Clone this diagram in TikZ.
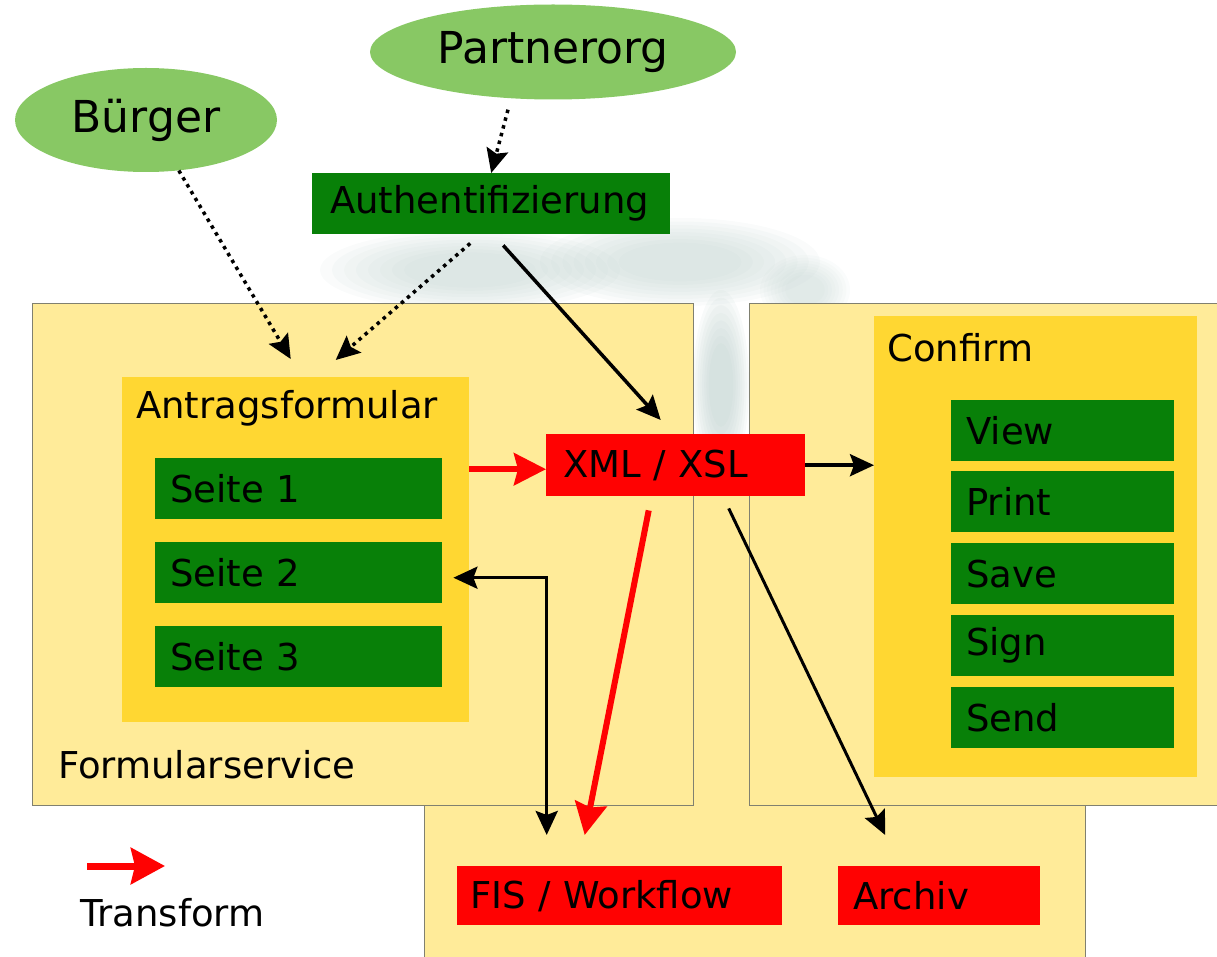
\documentclass[tikz,border=0pt]{standalone}
\usepackage{fontspec}
\setmainfont{DejaVu Sans}
\usepackage{tikz}
\usetikzlibrary{arrows.meta}
\usetikzlibrary{shapes.geometric}
\definecolor{paleyellow}{RGB}{255,235,153}
\definecolor{gold}{RGB}{255,215,50}
\definecolor{darkgreen}{RGB}{8,128,8}
\definecolor{leafgreen}{RGB}{136,200,100}
\definecolor{xmlred}{RGB}{255,2,2}
\definecolor{framegray}{RGB}{128,128,112}
\definecolor{treegray}{RGB}{178,200,196}

\begin{document}
\begin{tikzpicture}[x=1pt,y=-1pt,
  every node/.style={font=\fontsize{37}{42}\selectfont, inner sep=0pt},
  actor/.style={ellipse, fill=leafgreen, font=\fontsize{44}{50}\selectfont},
  area/.style={anchor=north west, fill=paleyellow, draw=framegray, line width=1.2pt},
  group/.style={anchor=north west, fill=gold},
  item/.style={anchor=north west, fill=darkgreen, text width=#1, inner xsep=15pt, align=left, minimum height=61pt},
  sys/.style={anchor=north west, fill=xmlred, text width=#1, inner xsep=15pt, align=left, minimum height=61pt},
  flow/.style={-{Stealth[length=24pt,width=22pt,inset=4pt]}, line width=3.5pt},
  dots/.style={flow, dash pattern=on 3.5pt off 4.5pt},
  transform/.style={-{Stealth[length=32pt,width=32pt,inset=4pt]}, line width=6pt, xmlred}]
  \useasboundingbox (0,0) rectangle (1217,957);

  % faded tree behind
  \foreach \s in {1,0.92,...,0.4} {
    \fill[treegray, opacity=.07] (470,270) ellipse [x radius=150*\s, y radius=40*\s];
    \fill[treegray, opacity=.07] (680,262) ellipse [x radius=140*\s, y radius=44*\s];
    \fill[treegray, opacity=.06] (805,290) ellipse [x radius=45*\s, y radius=35*\s];
    \fill[treegray, opacity=.09] (721,385) ellipse [x radius=28*\s, y radius=95*\s];
  }

  % boxes
  \node[area, minimum width=661pt, minimum height=500pt] (bx) at (424,470) {};
  \node[area, minimum width=661pt, minimum height=502pt] (fs) at (32,303) {};
  \node[area, minimum width=470pt, minimum height=502pt] (cf) at (749,303) {};
  \node[anchor=west] (fslbl) at (58,765) {Formularservice};

  \node[group, minimum width=347pt, minimum height=345pt] (af) at (122,377) {};
  \node[anchor=west] (aflbl) at (136,408) {Antragsformular};
  \foreach \i in {1,2,3}
    \node[item=257pt] (s\i) at (155,{374+84*\i}) {Seite \i};

  \node[group, minimum width=323pt, minimum height=461pt] (cg) at (874,316) {};
  \node[anchor=west] (cflbl) at (887,348) {Confirm};
  \foreach \txt/\y in {View/400,Print/471,Save/543,Sign/615,Send/687}
    \node[item=193pt] (\txt) at (951,\y) {\txt};

  \node[sys=225pt, inner xsep=17pt, minimum height=62pt] (xml) at (546,434) {XML / XSL};
  \node[sys=299pt, inner xsep=13pt, minimum height=59pt] (fis) at (457,866) {FIS / Workflow};
  \node[sys=172pt, minimum height=59pt] (ar) at (838,866) {Archiv};

  % actors
  \node[actor, minimum width=262pt, minimum height=104pt] (bu) at (146,120) {Bürger};
  \node[actor, minimum width=366pt, minimum height=95pt] (pa) at (553,52) {Partnerorg};
  \node[item=322pt, inner xsep=18pt] (au) at (312,173) {Authentifizierung};

  % connectors
  \draw[dots] (bu.-57) -- ([xshift=-5pt,yshift=18pt]af.north);
  \draw[dots] ([xshift=-45pt,yshift=-10pt]pa.south) -- (au.north);
  \draw[dots] ([xshift=-21pt,yshift=-9pt]au.south) -- ([xshift=40pt,yshift=17pt]af.north);
  \draw[flow] ([xshift=12pt,yshift=-11pt]au.south) -- ([xshift=-15pt,yshift=14pt]xml.north);
  \draw[transform] ([yshift=-4pt]af.east |- xml.west) -- ([yshift=-4pt]xml.west);
  \draw[flow] (xml.east) -- (cg.west |- xml.east);
  \draw[transform] ([xshift=-27pt,yshift=-14pt]xml.south) -- ([xshift=-35pt,yshift=31pt]fis.north);
  \draw[flow, line width=3pt] ([xshift=53pt,yshift=-12pt]xml.south) -- ([xshift=-54pt,yshift=31pt]ar.north);
  \draw[flow, {Stealth[length=24pt,width=22pt,inset=4pt]}-{Stealth[length=24pt,width=22pt,inset=4pt]}]
    ([xshift=11pt,yshift=-5pt]s2.east) -| ([xshift=-73pt,yshift=31pt]fis.north);

  % legend
  \coordinate (lg) at (87,866);
  \draw[transform, line width=7pt, -{Stealth[length=34pt,width=36pt,inset=4pt]}] (lg) -- ++(78,0);
  \node[anchor=west] (tf) at (80,913) {Transform};
\end{tikzpicture}
\end{document}
